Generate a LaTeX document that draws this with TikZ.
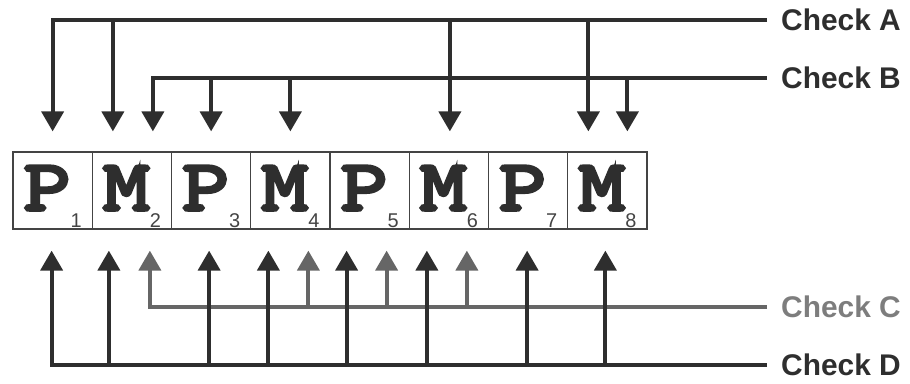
\documentclass[tikz,border=0pt]{standalone}
\usepackage{fontspec}
\usetikzlibrary{arrows.meta}
\newfontfamily\monofam{Latin Modern Mono}[FakeBold=5,FakeStretch=1.28]
\newfontfamily\sansfam{Liberation Sans}
\definecolor{linegray}{HTML}{2E2E2E}
\definecolor{cgray}{HTML}{666666}
\definecolor{boxgray}{HTML}{444444}
\newcommand{\pmcell}[2]{{\monofam\fontsize{72}{72}\selectfont #1}\raisebox{-17bp}{\sansfam\fontsize{20}{20}\selectfont\color{boxgray}#2}}

\begin{document}
\begin{tikzpicture}[x=1bp,y=-1bp,
  conn/.style={line width=4bp,draw=linegray,-{Triangle[width=22bp,length=20bp]}},
  cellbox/.style={draw=boxgray,line width=1.2bp,minimum width=79.25bp,minimum height=77bp,
    inner sep=0pt,text height=50bp,text depth=11bp,text=linegray},
  chk/.style={anchor=west,inner xsep=14bp,inner ysep=0pt,text=linegray,
    font=\sansfam\bfseries\fontsize{30}{30}\selectfont}]
\useasboundingbox (0,0) rectangle (910,383);
\foreach \n/\l/\s [count=\i] in {p1/P/1,m2/M/2,p3/P/3,m4/M/4,p5/P/5,m6/M/6,p7/P/7,m8/M/8}
  \node[cellbox] (\n) at ({13+79.25*(\i-0.5)},190.5) {\pmcell{\l}{\s}};

\node[chk] (chkA) at (767,20) {Check A};
\node[chk] (chkB) at (767,78) {Check B};
\node[chk,text=cgray!85] (chkC) at (767,307) {Check C};
\node[chk] (chkD) at (767,365) {Check D};

\draw[conn] (chkA.west) -| ([yshift=20bp]p1.north);
\foreach \n/\dx in {m2/-19,m6/1,m8/-19} {
  \path ([xshift=\dx bp]\n.north) coordinate (t);
  \draw[conn] (t |- chkA.west) -- ([yshift=20bp]t);
}
\draw[conn] (chkB.west) -| ([xshift=21bp,yshift=20bp]m2.north);
\foreach \n/\dx in {p3/0,m4/0,m8/20} {
  \path ([xshift=\dx bp]\n.north) coordinate (t);
  \draw[conn] (t |- chkB.west) -- ([yshift=20bp]t);
}

\draw[conn,draw=cgray] (chkC.west) -| ([xshift=18bp,yshift=-21bp]m2.south);
\foreach \n/\dx in {m4/18,p5/17,m6/18} {
  \path ([xshift=\dx bp]\n.south) coordinate (t);
  \draw[conn,draw=cgray] (t |- chkC.west) -- ([yshift=-21bp]t);
}
\draw[conn] (chkD.west) -| ([xshift=-1bp,yshift=-21bp]p1.south);
\foreach \n/\dx in {m2/-23,p3/-2,m4/-22,p5/-23,m6/-22,p7/-1,m8/-2} {
  \path ([xshift=\dx bp]\n.south) coordinate (t);
  \draw[conn] (t |- chkD.west) -- ([yshift=-21bp]t);
}
\end{tikzpicture}
\end{document}
